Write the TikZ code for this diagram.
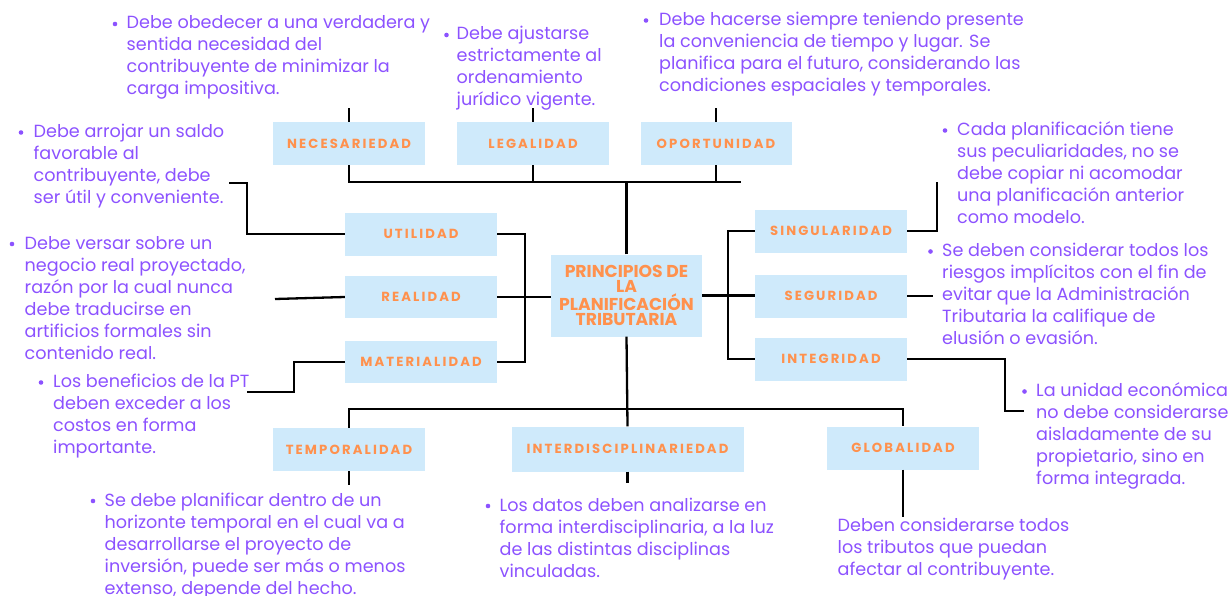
\documentclass[tikz,border=0pt]{standalone}
\usepackage{fontspec}
\setmainfont{Poppins}
\newfontfamily\lblfont{Poppins}[LetterSpace=16]
\definecolor{txt}{HTML}{8C52FF}
\definecolor{org}{HTML}{FF914D}
\definecolor{boxc}{HTML}{CFEAFB}
\newcommand{\Tst}{\rule{0pt}{16pt}}
\tikzset{
  lbl/.style={fill=boxc, text=org, inner sep=0pt, minimum width=152pt, minimum height=43pt,
    font=\lblfont\bfseries\fontsize{13.2}{14}\selectfont},
  desc/.style={anchor=north west, align=left, text=txt, inner sep=0pt,
    font=\fontsize{17.6}{22}\selectfont},
  ln/.style={line width=2.3pt, black},
  bul/.style={fill=txt}
}
\begin{document}
\begin{tikzpicture}[x=1pt,y=-1pt]
\useasboundingbox (0,0) rectangle (1230,596);
\fill[white] (0,0) rectangle (1230,596);

% boxes
\node[lbl] (nec) at (349,143.5) {NECESARIEDAD};
\node[lbl] (leg) at (533,143.5) {LEGALIDAD};
\node[lbl, minimum width=151pt] (opo) at (716,143.5) {OPORTUNIDAD};
\node[lbl] (uti) at (421,234) {UTILIDAD};
\node[lbl, minimum height=42pt] (rea) at (421,297) {REALIDAD};
\node[lbl, minimum height=42pt] (mat) at (421,362) {MATERIALIDAD};
\node[lbl, minimum width=151pt, minimum height=82pt, align=center,
  font=\bfseries\fontsize{17.2}{14.8}\selectfont] (cen) at (626.5,295.5)
  {PRINCIPIOS DE\\LA\\PLANIFICACIÓN\\TRIBUTARIA};
\node[lbl] (sin) at (831,231) {SINGULARIDAD};
\node[lbl] (seg) at (831,296) {SEGURIDAD};
\node[lbl] (int) at (831,359) {INTEGRIDAD};
\node[lbl] (tem) at (349,449.5) {TEMPORALIDAD};
\node[lbl, minimum width=232pt, minimum height=45pt] (inr) at (627.5,449) {INTERDISCIPLINARIEDAD};
\node[lbl] (glo) at (903,448) {GLOBALIDAD};

% texts
\node[desc] (tnec) at (126.5,12.8) {\Tst Debe obedecer a una verdadera y\\sentida necesidad del\\contribuyente de minimizar la\\carga impositiva.};
\fill[bul] (115,24) circle (2.3pt);
\node[desc] (tleg) at (456.5,23.8) {\Tst Debe ajustarse\\estrictamente al\\ordenamiento\\jurídico vigente.};
\fill[bul] (446.5,35) circle (2.3pt);
\node[desc] (topo) at (659,9.3) {\Tst Debe hacerse siempre teniendo presente\\la conveniencia de tiempo y lugar. Se\\planifica para el futuro, considerando las\\condiciones espaciales y temporales.};
\fill[bul] (646,20.5) circle (2.3pt);
\node[desc] (tuti) at (33.5,121.3) {\Tst Debe arrojar un saldo\\favorable al\\contribuyente, debe\\ser útil y conveniente.};
\fill[bul] (21,132.5) circle (2.3pt);
\node[desc] (trea) at (24.5,232.8) {\Tst Debe versar sobre un\\negocio real proyectado,\\razón por la cual nunca\\debe traducirse en\\artificios formales sin\\contenido real.};
\fill[bul] (12,244) circle (2.3pt);
\node[desc] (tmat) at (53,371.3) {\Tst Los beneficios de la PT\\deben exceder a los\\costos en forma\\importante.};
\fill[bul] (41,382.5) circle (2.3pt);
\node[desc] (ttem) at (104.5,489.8) {\Tst Se debe planificar dentro de un\\horizonte temporal en el cual va a\\desarrollarse el proyecto de\\inversión, puede ser más o menos\\extenso, depende del hecho.};
\fill[bul] (93,501) circle (2.3pt);
\node[desc] (tinr) at (499.5,494.8) {\Tst Los datos deben analizarse en\\forma interdisciplinaria, a la luz\\de las distintas disciplinas\\vinculadas.};
\fill[bul] (488,506) circle (2.3pt);
\node[desc] (tglo) at (837.5,515.3) {\Tst Deben considerarse todos\\los tributos que puedan\\afectar al contribuyente.};
\node[desc] (tsin) at (957,119.3) {\Tst Cada planificación tiene\\sus peculiaridades, no se\\debe copiar ni acomodar\\una planificación anterior\\como modelo.};
\fill[bul] (945,130.5) circle (2.3pt);
\node[desc] (tseg) at (942,240.3) {\Tst Se deben considerar todos los\\riesgos implícitos con el fin de\\evitar que la Administración\\Tributaria la califique de\\elusión o evasión.};
\fill[bul] (930.5,251.5) circle (2.3pt);
\node[desc] (tint) at (1036,380.3) {\Tst La unidad económica\\no debe considerarse\\aisladamente de su\\propietario, sino en\\forma integrada.};
\fill[bul] (1024.5,391.5) circle (2.3pt);

% coordinates
\coordinate (tl) at (349,182);
\coordinate (tr) at (741,182);
\coordinate (lbx) at (525,0);
\coordinate (rbx) at (728,0);
\coordinate (bl) at (349,409);
\coordinate (necT) at (349,108);
\coordinate (legT) at (533,108);
\coordinate (opoT) at (716,108);
\coordinate (u1) at (247,183);
\coordinate (u2) at (229,183);
\coordinate (r1) at (275,299);
\coordinate (m1) at (294,392);
\coordinate (m2) at (247,392);
\coordinate (s1) at (937,182);
\coordinate (g1) at (933,296);
\coordinate (i1) at (1005,411);
\coordinate (i2) at (1024,411);
\coordinate (temB) at (349,485);
\coordinate (inrB) at (627.5,483);
\coordinate (gloB) at (903,517);

% hub connectors
\draw[ln] (nec.south) |- (tr);
\draw[ln] (leg.south) -- (leg.south |- tl);
\draw[ln] (opo.south) -- (opo.south |- tl);
\draw[ln] (cen.north) -- (cen.north |- tl);
\draw[ln] (uti.east) -- (uti.east -| lbx) -- (mat.east -| lbx) -- (mat.east);
\draw[ln] (rea.east) -- (rea.east -| cen.west);
\draw[ln] (sin.west) -- (sin.west -| rbx) -- (int.west -| rbx) -- (int.west);
\draw[ln] (cen.east) -- (cen.east -| seg.west);
\draw[ln] (cen.south) -- (inr.north);
\draw[ln] (tem.north) -- (tem.north |- bl) -- (glo.north |- bl) -- (glo.north);

% text connectors
\draw[ln] (nec.north) -- (necT);
\draw[ln] (leg.north) -- (legT);
\draw[ln] (opo.north) -- (opoT);
\draw[ln] (uti.west) -| (u1) -- (u2);
\draw[ln] (rea.west) -- (r1);
\draw[ln] (mat.west) -| (m1) -- (m2);
\draw[ln] (sin.east) -| (s1);
\draw[ln] (seg.east) -- (g1);
\draw[ln] (int.east) -| (i1) -- (i2);
\draw[ln] (tem.south) -- (temB);
\draw[ln] (inr.south) -- (inrB);
\draw[ln] (glo.south) -- (gloB);
\end{tikzpicture}
\end{document}
